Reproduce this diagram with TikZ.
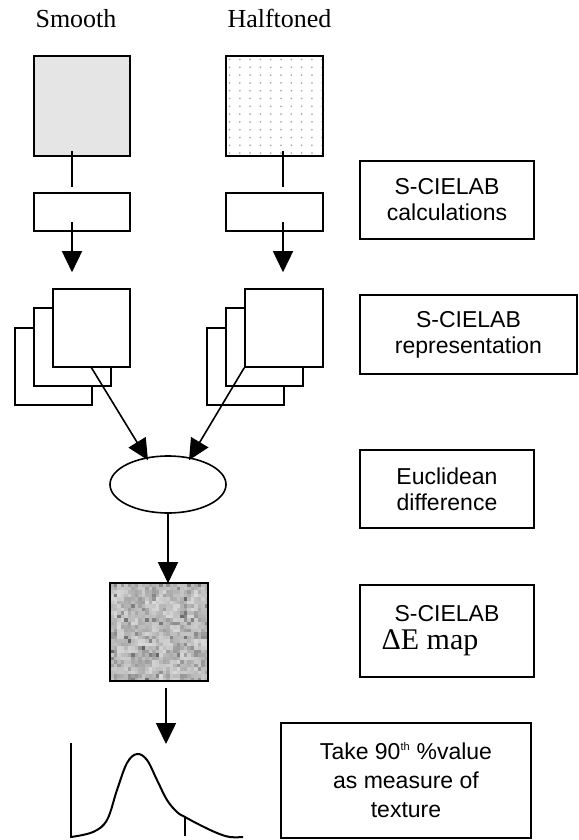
\documentclass[tikz,border=0pt]{standalone}
\usepackage{fontspec}
\setmainfont{Liberation Serif}
\setsansfont{Liberation Sans}
\usetikzlibrary{arrows.meta,shapes.geometric}

\begin{document}
\begin{tikzpicture}[x=1pt, y=-1pt, line width=1.6pt,
    every node/.style={align=center},
    imgbox/.style={draw, fill=white, inner sep=0pt},
    labelbox/.style={draw, inner sep=0pt, minimum width=174pt, minimum height=78pt,
        font=\sffamily\fontsize{23}{26}\selectfont},
    title/.style={anchor=base, font=\rmfamily\fontsize{26}{30}\selectfont},
    arr/.style={-{Triangle[width=20pt,length=21pt]}}]
    \useasboundingbox (0,0) rectangle (578,840);

    \node[title] (smoothlbl) at (76,28) {Smooth};
    \node[title] (halflbl) at (279.5,28) {Halftoned};

    \node[imgbox, fill=black!10, minimum width=96pt, minimum height=100pt] (smooth) at (82,106) {};
    \node[imgbox, minimum width=97pt, minimum height=100pt,
        path picture={
            \foreach \i in {0,...,9}
                \foreach \j in {0,...,12}
                    \fill[black!32] ([shift={(3.5+\i*10.3,3.5+\j*7.8)}]path picture bounding box.north west) circle (1);
        }] (half) at (274.5,106) {};

    \node[imgbox, minimum width=96pt, minimum height=38pt] (calcL) at (82,212) {};
    \node[imgbox, minimum width=97pt, minimum height=38pt] (calcR) at (274.5,212) {};

    \draw ([xshift=-10pt,yshift=6pt]smooth.south) -- ([xshift=-10pt,yshift=5pt]calcL.north);
    \draw ([xshift=8.5pt,yshift=6pt]half.south) -- ([xshift=8.5pt,yshift=5pt]calcR.north);

    % three layers per image
    \node[imgbox, minimum width=77pt, minimum height=77pt] (backL) at (53.5,366.5) {};
    \node[imgbox, minimum width=77pt, minimum height=78pt] (midL) at (72.5,347) {};
    \node[imgbox, minimum width=77pt, minimum height=78pt] (frontL) at (91.5,328) {};
    \node[imgbox, minimum width=77pt, minimum height=77pt] (backR) at (245.5,366.5) {};
    \node[imgbox, minimum width=77pt, minimum height=78pt] (midR) at (264.5,347) {};
    \node[imgbox, minimum width=78pt, minimum height=78pt] (frontR) at (284,328) {};

    \draw[arr] ([xshift=-10pt,yshift=10pt]calcL.south) -- ([xshift=-19.5pt,yshift=16pt]frontL.north);
    \draw[arr] ([xshift=8.5pt,yshift=10pt]calcR.south) -- ([xshift=-1pt,yshift=16pt]frontR.north);

    \node[draw, ellipse, inner sep=0pt, minimum width=116pt, minimum height=57pt] (diff) at (168,484.5) {};
    \draw[arr] (frontL.south) -- ([xshift=-20pt,yshift=-5pt]diff.north);
    \draw[arr] (frontR.south west) -- ([xshift=21pt,yshift=-5pt]diff.north);

    \pgfmathsetseed{7}
    \node[imgbox, fill=black!35, minimum width=98pt, minimum height=98pt,
        path picture={
            \foreach \i in {0,...,13}
                \foreach \j in {0,...,13} {
                    \pgfmathsetmacro\g{20+40*rnd}
                    \fill[black!\g] ([shift={(\i*7,\j*7)}]path picture bounding box.north west) rectangle +(7.2,7.2);
                }
            \foreach \i in {0,...,27}
                \foreach \j in {0,...,27} {
                    \pgfmathsetmacro\g{10+85*rnd*rnd*rnd}
                    \fill[black!\g, opacity=0.6] ([shift={(\i*3.5,\j*3.5)}]path picture bounding box.north west) rectangle +(3.6,3.6);
                }
        }] (noise) at (159,632) {};
    \draw[arr] (diff.south) -- ([xshift=9pt,yshift=-1pt]noise.north);

    % distribution of delta E
    \coordinate (histtop) at (166,744);
    \draw[arr] ([xshift=7pt,yshift=-6pt]noise.south) -- (histtop);
    \draw (71,743) -- (71,838);
    \draw[line width=2pt] plot[smooth, tension=0.6] coordinates {(71,837) (93,832) (107,820) (117,790)
        (127,763) (137,754) (147,760) (157,780) (167,800) (177,812) (185,817) (200,825)
        (217,833) (230,837) (243,837)};
    \draw (185,816) -- (185,836);

    \node[labelbox] (calcs) at (447,200) {S-CIELAB\\calculations};
    \node[labelbox, minimum width=217pt, minimum height=79pt] (repr) at (468.5,334.5) {S-CIELAB\\representation};
    \node[labelbox] (eucl) at (447,489) {Euclidean\\difference};
    \node[labelbox, minimum height=92pt] (demap) at (447,631)
        {S-CIELAB\\[2pt]{\rmfamily\fontsize{30}{30}\selectfont ΔE map}\hspace*{34pt}};
    \node[labelbox, minimum width=250pt, minimum height=115pt, font=\sffamily\fontsize{23}{29}\selectfont] (pct) at (406,780.5)
        {Take 90\textsuperscript{\fontsize{11}{11}\selectfont th} \%value\\as measure of\\texture};
\end{tikzpicture}
\end{document}
